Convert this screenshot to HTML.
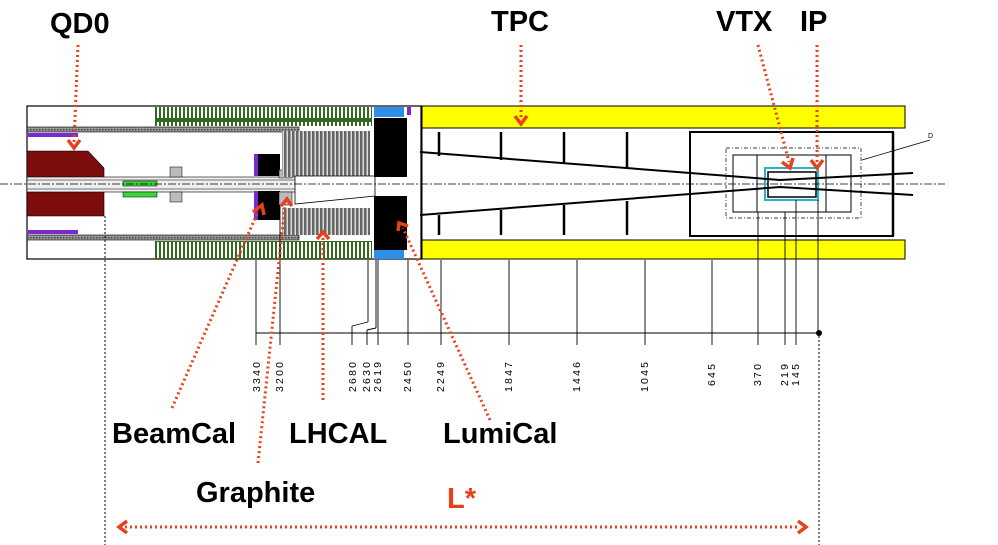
<!DOCTYPE html>
<html><head><meta charset="utf-8"><style>
html,body{margin:0;padding:0;background:#fff;}
svg{display:block;}
.lab{font-family:"Liberation Sans",Arial,sans-serif;font-weight:bold;font-size:29px;fill:#000;}
.dim{font-family:"Liberation Sans",Arial,sans-serif;font-size:10.5px;fill:#000;letter-spacing:2.2px;}
.red{stroke:#e8401c;stroke-width:3;stroke-dasharray:2 3;fill:none;}
</style></head><body>
<svg width="998" height="545" viewBox="0 0 998 545" xmlns="http://www.w3.org/2000/svg">
<defs>
<pattern id="gc" width="4" height="20" patternUnits="userSpaceOnUse"><rect width="4" height="20" fill="#2f6a1e"/><rect x="1" y="2" width="2" height="16" fill="#fff"/></pattern>
<pattern id="gh" width="4" height="20" patternUnits="userSpaceOnUse"><rect width="4" height="20" fill="#666"/><rect x="2.5" y="0" width="1.5" height="20" fill="#ddd"/></pattern>
<pattern id="hz" width="3" height="3" patternUnits="userSpaceOnUse"><rect width="3" height="3" fill="#999"/><rect width="1.5" height="1.5" fill="#444"/></pattern>
</defs>
<rect x="27" y="106" width="394" height="153" fill="#fff" stroke="#000" stroke-width="1.2"/>
<rect x="155" y="107" width="217" height="19" fill="url(#gc)"/>
<rect x="155" y="241" width="217" height="18" fill="url(#gc)"/>
<rect x="27" y="127" width="272" height="5" fill="url(#hz)" stroke="#000" stroke-width="0.6"/>
<rect x="27" y="235" width="272" height="5" fill="url(#hz)" stroke="#000" stroke-width="0.6"/>
<rect x="28" y="133" width="50" height="4" fill="#7a2bd0"/>
<rect x="28" y="230" width="50" height="4" fill="#7a2bd0"/>
<polygon points="27,151 88,151 104,168 104,216 88,216 27,216" fill="#7d0d0d" stroke="#000" stroke-width="0.6"/>
<rect x="27" y="177" width="270" height="15" fill="#eee" stroke="#000" stroke-width="0.6"/>
<line x1="27" y1="180" x2="297" y2="180" stroke="#000" stroke-width="0.6"/>
<line x1="27" y1="189" x2="297" y2="189" stroke="#000" stroke-width="0.6"/>
<rect x="123" y="181" width="34" height="5" fill="#3bd43b" stroke="#000" stroke-width="0.5"/>
<rect x="123" y="192" width="34" height="5" fill="#3bd43b" stroke="#000" stroke-width="0.5"/>
<rect x="170" y="167" width="12" height="10" fill="#bbb" stroke="#000" stroke-width="0.5"/>
<rect x="170" y="192" width="12" height="10" fill="#bbb" stroke="#000" stroke-width="0.5"/>
<rect x="254" y="154" width="26" height="22" fill="#000"/>
<rect x="254" y="191" width="26" height="29" fill="#000"/>
<rect x="254" y="154" width="4" height="22" fill="#7a2bd0"/>
<rect x="254" y="191" width="4" height="29" fill="#7a2bd0"/>
<rect x="279" y="170" width="13" height="8" fill="#bbb" stroke="#000" stroke-width="0.5"/>
<rect x="279" y="192" width="13" height="13" fill="#bbb" stroke="#000" stroke-width="0.5"/>
<rect x="282" y="131" width="88" height="46" fill="url(#gh)"/>
<rect x="282" y="208" width="88" height="27" fill="url(#gh)"/>
<polygon points="295,176 375,176 375,196 295,204" fill="#fff" stroke="#000" stroke-width="0.8"/>
<rect x="374" y="118" width="33" height="59" fill="#000"/>
<rect x="374" y="196" width="33" height="54" fill="#000"/>
<rect x="374" y="107" width="30" height="10" fill="#2e8fe6"/>
<rect x="374" y="250" width="30" height="9" fill="#2e8fe6"/>
<rect x="407" y="107" width="4" height="8" fill="#7a2bd0"/>
<rect x="422" y="106" width="483" height="22" fill="#ffff00" stroke="#000" stroke-width="1"/>
<rect x="422" y="240" width="483" height="19" fill="#ffff00" stroke="#000" stroke-width="1"/>
<line x1="422" y1="128" x2="422" y2="240" stroke="#000" stroke-width="1"/>
<g stroke="#000" stroke-width="2.5">
<line x1="439" y1="132" x2="439" y2="156"/><line x1="439" y1="215" x2="439" y2="235"/>
<line x1="501" y1="132" x2="501" y2="160"/><line x1="501" y1="210" x2="501" y2="235"/>
<line x1="564" y1="132" x2="564" y2="164"/><line x1="564" y1="205" x2="564" y2="235"/>
<line x1="627" y1="132" x2="627" y2="168"/><line x1="627" y1="201" x2="627" y2="235"/>
<line x1="893" y1="132" x2="893" y2="236"/>
</g>
<rect x="690" y="132" width="203" height="104" fill="none" stroke="#000" stroke-width="2"/>
<rect x="726" y="148" width="135" height="70" fill="none" stroke="#000" stroke-width="0.7" stroke-dasharray="4 2 1 2"/>
<rect x="733" y="155" width="118" height="57" fill="none" stroke="#000" stroke-width="1"/>
<line x1="757" y1="155" x2="757" y2="212" stroke="#000"/><line x1="826" y1="155" x2="826" y2="212" stroke="#000"/>
<rect x="765" y="168" width="53" height="32" fill="none" stroke="#26b5c9" stroke-width="2"/>
<rect x="768" y="172" width="48" height="25" fill="none" stroke="#000" stroke-width="1.5"/>
<polyline points="420,152 780,180 913,173" fill="none" stroke="#000" stroke-width="2"/>
<polyline points="420,215 780,187 913,195" fill="none" stroke="#000" stroke-width="2"/>
<line x1="862" y1="160" x2="930" y2="140" stroke="#000" stroke-width="0.8"/>
<text x="928" y="138" font-family="Liberation Sans" font-size="7">D</text>
<line x1="0" y1="184" x2="945" y2="184" stroke="#000" stroke-width="0.7" stroke-dasharray="8 2 2 2"/>
<g stroke="#000" stroke-width="0.9">
<line x1="256" y1="333" x2="821" y2="333"/>
<line x1="256" y1="260" x2="256" y2="345"/><line x1="280" y1="205" x2="280" y2="345"/>
<line x1="352" y1="326" x2="352" y2="345"/><line x1="352" y1="326" x2="368" y2="322"/><line x1="368" y1="322" x2="368" y2="260"/>
<line x1="367" y1="330" x2="367" y2="345"/><line x1="367" y1="330" x2="376" y2="328"/><line x1="376" y1="328" x2="376" y2="260"/>
<line x1="378" y1="260" x2="378" y2="345"/>
<line x1="408" y1="260" x2="408" y2="345"/>
<line x1="441" y1="260" x2="441" y2="345"/><line x1="509" y1="260" x2="509" y2="345"/>
<line x1="577" y1="260" x2="577" y2="345"/><line x1="645" y1="260" x2="645" y2="345"/>
<line x1="712" y1="260" x2="712" y2="345"/><line x1="758" y1="212" x2="758" y2="345"/>
<line x1="785" y1="212" x2="785" y2="345"/><line x1="796" y1="200" x2="796" y2="345"/>
<line x1="818" y1="200" x2="818" y2="333"/>
</g>
<circle cx="819" cy="333" r="3" fill="#000"/>
<g class="dim">
<text transform="translate(260,392) rotate(-90)">3340</text>
<text transform="translate(283,392) rotate(-90)">3200</text>
<text transform="translate(356,392) rotate(-90)">2680</text>
<text transform="translate(370,392) rotate(-90)">2630</text>
<text transform="translate(381,392) rotate(-90)">2619</text>
<text transform="translate(411,392) rotate(-90)">2450</text>
<text transform="translate(444,392) rotate(-90)">2249</text>
<text transform="translate(512,392) rotate(-90)">1847</text>
<text transform="translate(580,392) rotate(-90)">1446</text>
<text transform="translate(648,392) rotate(-90)">1045</text>
<text transform="translate(715,386) rotate(-90)">645</text>
<text transform="translate(761,386) rotate(-90)">370</text>
<text transform="translate(788,386) rotate(-90)">219</text>
<text transform="translate(799,386) rotate(-90)">145</text>
</g>
<line x1="105" y1="216" x2="105" y2="545" stroke="#000" stroke-width="1" stroke-dasharray="2 2"/>
<line x1="819" y1="336" x2="819" y2="545" stroke="#000" stroke-width="1" stroke-dasharray="2 2"/>
<g class="red">
<line x1="78" y1="45" x2="74" y2="142"/>
<line x1="521" y1="45" x2="521" y2="118"/>
<line x1="758" y1="45" x2="789" y2="162"/>
<line x1="817" y1="45" x2="817" y2="162"/>
<line x1="172" y1="408" x2="257" y2="214"/>
<line x1="258" y1="463" x2="285" y2="204"/>
<line x1="323" y1="400" x2="323" y2="238"/>
<line x1="490" y1="420" x2="403" y2="228"/>
<line x1="125" y1="527" x2="800" y2="527"/>
</g>
<g fill="none" stroke="#e8401c" stroke-width="3.5">
<polyline points="68,140 74,148 80,140"/>
<polyline points="515,116 521,124 527,116"/>
<polyline points="782,162 790,168 793,158"/>
<polyline points="811,160 817,168 823,160"/>
<polyline points="253,212 262,205 264,215"/>
<polyline points="281,206 287,199 292,206"/>
<polyline points="317,239 323,232 329,239"/>
<polyline points="398,231 399,223 408,226"/>
<polyline points="127,521 119,527 127,533"/>
<polyline points="798,521 806,527 798,533"/>
</g>
<text class="lab" x="50" y="33">QD0</text>
<text class="lab" x="491" y="31">TPC</text>
<text class="lab" x="716" y="31">VTX</text>
<text class="lab" x="800" y="31">IP</text>
<text class="lab" x="112" y="443">BeamCal</text>
<text class="lab" x="289" y="443">LHCAL</text>
<text class="lab" x="443" y="443">LumiCal</text>
<text class="lab" x="196" y="502">Graphite</text>
<text class="lab" x="447" y="508" style="fill:#e8401c">L*</text>
</svg>
</body></html>
